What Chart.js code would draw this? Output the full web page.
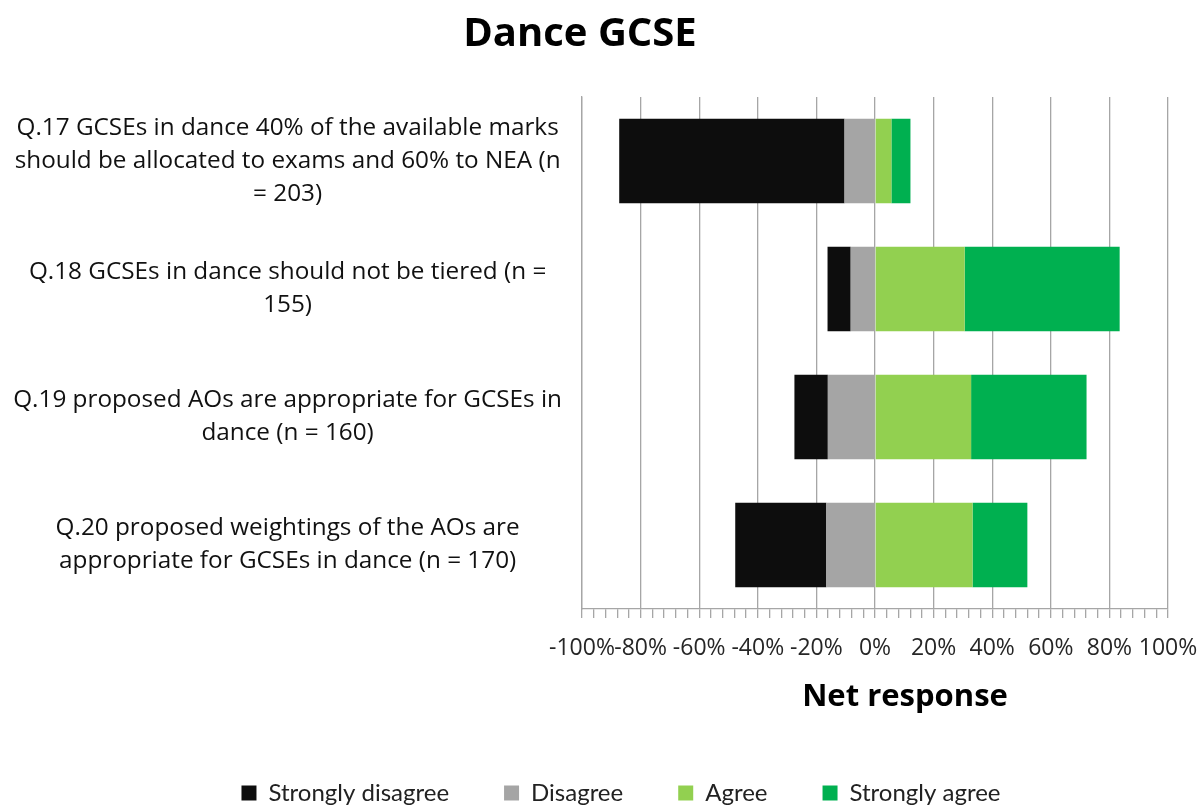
<!DOCTYPE html>
<html>
<head>
<meta charset="utf-8">
<script src="https://cdn.jsdelivr.net/npm/chart.js@4"></script>
<style>
  html, body { margin: 0; padding: 0; background: #fff; }
  #wrap { width: 1198px; height: 806px; }
</style>
</head>
<body>
<div id="wrap"><canvas id="dance"></canvas></div>
<script>
const questions = [
  ["Q.17 GCSEs in dance 40% of the available marks", "should be allocated to exams and 60% to NEA (n", "= 203)"],
  ["Q.18 GCSEs in dance should not be tiered (n =", "155)"],
  ["Q.19 proposed AOs are appropriate for GCSEs in", "dance (n = 160)"],
  ["Q.20 proposed weightings of the AOs are", "appropriate for GCSEs in dance (n = 170)"]
];
// disagree sides are negative so they stack left of zero
const strongDisagree = [-76.9, -7.9, -11.4, -31.1];
const disagree = [-10.4, -8.3, -16.1, -16.6];
const agree = [5.6, 30.6, 32.8, 33.3];
const strongAgree = [6.5, 52.9, 39.4, 18.7];
const legendOrder = ["Strongly disagree", "Disagree", "Agree", "Strongly agree"];

const FONT = "'Open Sans', Lato, sans-serif";
const GRID = "#a6a6a6";

const extraText = {
  id: "extraText",
  afterLayout(chart) {
    // nudge the legend row a bit right like the original
    chart.legend.left += 22;
    chart.legend.right += 22;
  },
  afterDraw(chart) {
    const ctx = chart.ctx;
    ctx.save();
    ctx.fillStyle = "#000";
    ctx.textAlign = "center";
    ctx.textBaseline = "middle";
    ctx.font = "bold 40px " + FONT;
    ctx.fillText("Dance GCSE", 580, 35);
    ctx.font = "bold 31px " + FONT;
    ctx.fillText("Net response", 905, 697);
    ctx.restore();
  }
};

new Chart(document.getElementById("dance"), {
  type: "bar",
  data: {
    labels: questions,
    datasets: [
      // Disagree first so it sits next to zero
      { label: "Disagree", data: disagree, backgroundColor: "#a5a5a5" },
      { label: "Strongly disagree", data: strongDisagree, backgroundColor: "#0d0d0d" },
      { label: "Agree", data: agree, backgroundColor: "#92d050" },
      { label: "Strongly agree", data: strongAgree, backgroundColor: "#00b050" }
    ]
  },
  options: {
    indexAxis: "y",
    responsive: true,
    maintainAspectRatio: false,
    animation: false,
    layout: { padding: { top: 97, right: 0, left: 0, bottom: -9 } },
    datasets: { bar: { categoryPercentage: 1, barPercentage: 0.66, borderWidth: 0 } },
    scales: {
      x: {
        stacked: true,
        min: -100,
        max: 100,
        afterFit(scale) {
          scale.height = 117;
          scale.paddingRight = 30;
        },
        ticks: {
          stepSize: 4,
          autoSkip: false,
          maxRotation: 0,
          padding: 17,
          color: "#262626",
          font: { family: FONT, size: 23 },
          callback: v => (v % 20 === 0 ? v + "%" : "")
        },
        grid: {
          color: c => (c.tick && c.tick.value % 20 === 0 ? GRID : "rgba(0,0,0,0)"),
          tickColor: GRID,
          tickLength: 9,
          lineWidth: 1.3
        },
        border: { display: true, color: GRID, width: 1.3 }
      },
      y: {
        stacked: true,
        afterFit(scale) { scale.width = 582; },
        ticks: {
          crossAlign: "center",
          padding: 20,
          color: "#111",
          font: { family: FONT, size: 24.3, lineHeight: 1.36 }
        },
        grid: { display: false, drawTicks: false, tickLength: 0 },
        border: { display: true, color: GRID, width: 1.3 }
      }
    },
    plugins: {
      title: { display: false },
      tooltip: { enabled: false },
      legend: {
        position: "bottom",
        labels: {
          boxWidth: 15,
          boxHeight: 15,
          padding: 55,
          color: "#222",
          font: { family: "Lato, sans-serif", size: 24 },
          sort: (a, b) => legendOrder.indexOf(a.text) - legendOrder.indexOf(b.text)
        }
      }
    }
  },
  plugins: [extraText]
});
</script>
</body>
</html>
